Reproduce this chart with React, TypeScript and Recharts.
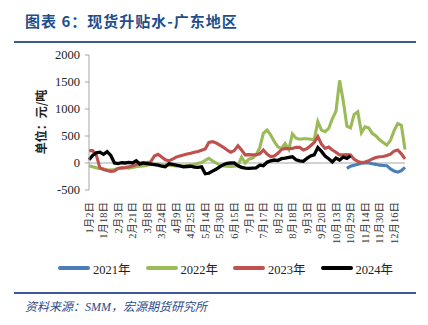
import React from 'react';
import { LineChart, Line, XAxis, YAxis, ReferenceLine } from 'recharts';

const serif = "'Liberation Serif', 'Noto Sans CJK SC', serif";
const cjk = "'Noto Sans CJK SC', sans-serif";

// one tick label every 4 points
const xLabels = [
  '1月2日', '1月18日', '2月3日', '2月21日', '3月8日', '3月24日', '4月9日', '4月25日',
  '5月14日', '5月30日', '6月15日', '7月1日', '7月17日', '8月2日', '8月18日', '9月3日',
  '9月20日', '10月13日', '10月29日', '11月14日', '11月30日', '12月16日',
];
const yTicks = [-500, 0, 500, 1000, 1500, 2000];

const y2021 = [
  null, null, null, null, null, null, null, null, null, null,
  null, null, null, null, null, null, null, null, null, null,
  null, null, null, null, null, null, null, null, null, null,
  null, null, null, null, null, null, null, null, null, null,
  null, null, null, null, null, null, null, null, null, null,
  null, null, null, null, null, null, null, null, null, null,
  null, null, null, null, null, null, null, null, null, null,
  null, -100, -60, -40, -25, -5, 0, 0, -15, -25,
  -40, -45, -50, -110, -150, -170, -140, -80,
];
const y2022 = [
  -50, -70, -90, -100, -110, -125, -130, -120, -100, -90,
  -85, -95, -85, -70, -60, -55, -40, -25, -20, -25,
  -35, -40, -40, -45, -55, -55, -50, -45, -40, -30,
  -5, 10, 50, 85, 40, 0, -40, -55, -60, -65,
  -60, -50, 110, 0, 70, 90, 150, 280, 550, 610,
  520, 400, 300, 270, 360, 250, 540, 460, 440, 450,
  450, 440, 430, 765, 610, 580, 640, 820, 960, 1530,
  1150, 680, 650, 900, 950, 560, 670, 650, 550, 500,
  430, 380, 330, 420, 600, 730, 700, 250,
];
const y2023 = [
  230, 230, 150, -90, -120, -140, -155, -150, -100, -90,
  -85, -70, -55, -35, 0, 5, 10, 20, 130, 160,
  110, 60, 40, 70, 110, 130, 150, 165, 180, 200,
  215, 235, 260, 380, 395, 370, 330, 290, 240, 200,
  230, 320, 240, 150, 155, 150, 155, 170, 240, 165,
  120, 130, 180, 250, 270, 265, 270, 290, 290, 240,
  265, 320, 380, 490, 350, 270, 295, 240, 200, 150,
  150, 155, 150, 70, 30, 10, 20, 40, 75, 100,
  115, 120, 140, 165, 220, 240, 170, 75,
];
const y2024 = [
  60, 140, 190, 200, 160, 210, 140, 0, -10, 5,
  0, 10, 0, 40, -20, 0, -10, -20, -30, -40,
  -60, -70, -15, -25, -40, -55, -70, -65, -60, -75,
  -80, -70, -200, -190, -150, -115, -70, -30, -5, 0,
  0, -50, -80, -95, -100, -95, -90, -40, -50, 15,
  40, 55, 45, 80, 90, 105, 115, 60, 40, 30,
  85, 130, 150, 285, 215, 130, 80, 20, 90, 55,
  110, 85, 130, null, null, null, null, null, null, null,
  null, null, null, null, null, null, null, null,
];

const series = [
  { key: 'y2021', name: '2021年', color: '#4a7ebb' },
  { key: 'y2022', name: '2022年', color: '#9bbb59' },
  { key: 'y2023', name: '2023年', color: '#c0504d' },
  { key: 'y2024', name: '2024年', color: '#000000' },
];

const data = y2022.map((v, i) => ({
  i,
  y2021: y2021[i],
  y2022: v,
  y2023: y2023[i],
  y2024: y2024[i],
}));

function XTick({ x, y, payload }: any) {
  const label = xLabels[Math.round(payload.value / 4)];
  return (
    <g transform={`translate(${x},${y})`}>
      <text transform="rotate(-90)" textAnchor="end" dy="0.35em" fontSize={10.5} fill="#333" fontFamily={serif}>
        {label}
      </text>
    </g>
  );
}

export default function App() {
  return (
    <div style={{ position: 'absolute', left: 0, top: 0, width: 428, height: 325, background: '#fff', overflow: 'hidden' }}>
      <div
        style={{
          position: 'absolute', left: 25, top: 11, lineHeight: '20px', fontSize: 15, fontWeight: 700,
          color: '#1f4e8c', fontFamily: cjk, letterSpacing: 1, whiteSpace: 'nowrap',
        }}
      >
        图表 6：现货升贴水-广东地区
      </div>
      <div style={{ position: 'absolute', left: 14, top: 41, width: 402, height: 2, background: '#3d5a98' }} />

      <LineChart
        width={428}
        height={260}
        data={data}
        margin={{ top: 55, right: 23, left: 0, bottom: 0 }}
        style={{ position: 'absolute', left: 0, top: 0 }}
      >
        <XAxis
          dataKey="i"
          interval={3}
          height={70}
          axisLine={false}
          tickLine={false}
          tickSize={0}
          tickMargin={12}
          tick={<XTick />}
        />
        <YAxis
          width={89}
          domain={[-500, 2000]}
          ticks={yTicks}
          interval={0}
          axisLine={{ stroke: '#a6a6a6' }}
          tickLine={{ stroke: '#a6a6a6' }}
          tickSize={4}
          tickMargin={5}
          tick={{ fill: '#222', fontSize: 12.5, fontFamily: serif }}
        />
        <ReferenceLine y={0} stroke="#a6a6a6" strokeWidth={1.2} />
        {series.map((s) => (
          <Line
            key={s.key}
            dataKey={s.key}
            stroke={s.color}
            strokeWidth={s.key === 'y2024' ? 3.3 : 3.1}
            dot={false}
            type="linear"
            isAnimationActive={false}
          />
        ))}
      </LineChart>

      <div
        style={{
          position: 'absolute', left: 40, top: 122, transform: 'translate(-50%, -50%) rotate(-90deg)',
          fontSize: 12, fontWeight: 700, fontFamily: cjk, color: '#222', whiteSpace: 'nowrap',
        }}
      >
        单位：元/吨
      </div>

      {series.map((s, k) => (
        <div
          key={s.key}
          style={{ position: 'absolute', left: 58 + k * 87.5, top: 260, height: 16, display: 'flex', alignItems: 'center' }}
        >
          <div style={{ width: 32, height: 4, borderRadius: 2, background: s.color }} />
          <span style={{ marginLeft: 3, fontSize: 12.5, fontFamily: serif, color: '#222' }}>{s.name}</span>
        </div>
      ))}

      <div style={{ position: 'absolute', left: 14, top: 292, width: 402, height: 2, background: '#3d5a98' }} />
      <div
        style={{
          position: 'absolute', left: 25, top: 299, lineHeight: '16px', fontSize: 12, fontStyle: 'italic',
          color: '#2f4a87', fontFamily: serif, whiteSpace: 'nowrap',
        }}
      >
        资料来源：SMM，宏源期货研究所
      </div>
    </div>
  );
}
